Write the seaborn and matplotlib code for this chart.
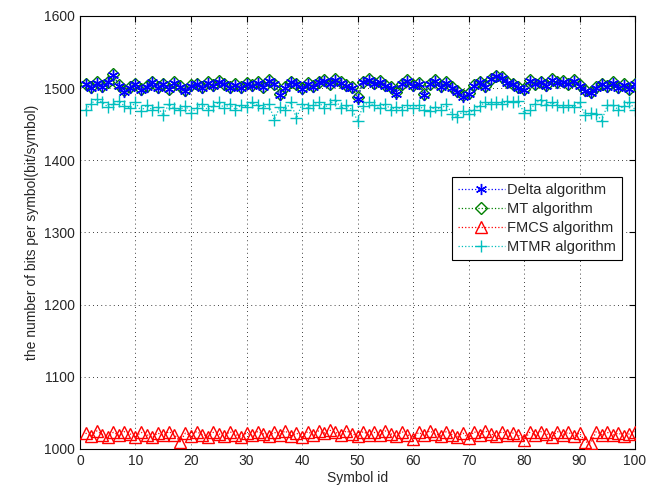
import matplotlib
matplotlib.use("Agg")
import matplotlib.pyplot as plt
import seaborn as sns
import numpy as np

symbol_id = list(range(1, 101))

delta = [1505, 1500, 1507, 1502, 1508, 1518, 1503, 1495, 1500, 1505,
         1497, 1502, 1508, 1500, 1505, 1498, 1507, 1502, 1496, 1503,
         1505, 1500, 1507, 1503, 1509, 1505, 1500, 1504, 1500, 1506,
         1503, 1507, 1501, 1510, 1505, 1490, 1500, 1508, 1505, 1499,
         1506, 1502, 1508, 1510, 1505, 1511, 1507, 1503, 1500, 1485,
         1508, 1511, 1506, 1509, 1503, 1500, 1492, 1505, 1510, 1503,
         1506, 1490, 1505, 1510, 1502, 1507, 1500, 1495, 1488, 1492,
         1503, 1508, 1502, 1512, 1516, 1514, 1507, 1505, 1500, 1497,
         1510, 1505, 1508, 1503, 1511, 1507, 1509, 1505, 1510, 1503,
         1496, 1493, 1500, 1505, 1502, 1507, 1500, 1504, 1498, 1505]

mt = [1506, 1501, 1508, 1503, 1509, 1519, 1504, 1497, 1501, 1506,
      1498, 1503, 1509, 1501, 1506, 1499, 1508, 1503, 1497, 1504,
      1506, 1501, 1508, 1504, 1510, 1506, 1501, 1505, 1501, 1507,
      1504, 1508, 1502, 1511, 1506, 1492, 1501, 1509, 1506, 1500,
      1507, 1503, 1509, 1511, 1506, 1512, 1508, 1504, 1501, 1487,
      1509, 1512, 1507, 1510, 1504, 1501, 1494, 1506, 1511, 1504,
      1507, 1492, 1506, 1511, 1503, 1508, 1501, 1496, 1490, 1493,
      1504, 1509, 1503, 1513, 1517, 1515, 1508, 1506, 1501, 1498,
      1511, 1506, 1509, 1504, 1512, 1508, 1510, 1506, 1511, 1504,
      1497, 1495, 1501, 1506, 1503, 1508, 1501, 1505, 1499, 1506]

fmcs = [1022, 1018, 1025, 1020, 1016, 1023, 1019, 1024, 1021, 1017,
        1023, 1020, 1016, 1022, 1019, 1024, 1020, 1010, 1022, 1018,
        1024, 1020, 1017, 1023, 1021, 1018, 1024, 1020, 1017, 1022,
        1019, 1024, 1021, 1018, 1023, 1020, 1025, 1018, 1022, 1016,
        1024, 1020, 1025, 1022, 1026, 1023, 1020, 1025, 1021, 1018,
        1024, 1020, 1023, 1019, 1025, 1021, 1018, 1024, 1020, 1014,
        1023, 1019, 1025, 1021, 1018, 1024, 1020, 1017, 1022, 1015,
        1024, 1020, 1025, 1021, 1018, 1024, 1020, 1022, 1019, 1012,
        1023, 1019, 1024, 1021, 1017, 1024, 1020, 1023, 1018, 1022,
        1010, 1008, 1024, 1020, 1023, 1019, 1022, 1018, 1021, 1024]

mtmr = [1470, 1478, 1485, 1480, 1474, 1478, 1482, 1475, 1472, 1480,
        1468, 1476, 1470, 1474, 1462, 1478, 1472, 1470, 1475, 1466,
        1472, 1478, 1470, 1475, 1480, 1472, 1478, 1470, 1476, 1474,
        1480, 1476, 1472, 1478, 1456, 1474, 1470, 1480, 1458, 1478,
        1472, 1476, 1480, 1473, 1478, 1484, 1472, 1476, 1470, 1455,
        1475, 1480, 1476, 1472, 1478, 1470, 1474, 1470, 1476, 1472,
        1476, 1470, 1468, 1474, 1470, 1478, 1464, 1460, 1468, 1464,
        1470, 1475, 1480, 1478, 1480, 1478, 1482, 1480, 1482, 1465,
        1470, 1478, 1484, 1476, 1480, 1476, 1474, 1476, 1474, 1480,
        1462, 1466, 1464, 1455, 1476, 1476, 1470, 1475, 1480, 1470]

labels = ["Delta algorithm", "MT algorithm", "FMCS algorithm", "MTMR algorithm"]
x_ticks = list(range(0, 101, 10))
y_ticks = list(range(1000, 1601, 100))

sns.set_style("white")
plt.rcParams['font.family'] = ['Liberation Sans', 'DejaVu Sans']
plt.rcParams['xtick.direction'] = 'in'
plt.rcParams['ytick.direction'] = 'in'

fig = plt.figure(figsize=(6.53, 4.95), dpi=100)
ax = fig.add_axes([0.1225, 0.093, 0.85, 0.875])

blue = (0, 0, 1)
green = (0, 0.5, 0)
red = (1, 0, 0)
cyan = (0, 0.75, 0.75)
styles = [
    (mt, labels[1], dict(color=green, marker='D', markersize=6.5, markerfacecolor='none', markeredgecolor=green), 3),
    (delta, labels[0], dict(color=blue, marker=(6, 2, 0), markersize=8, markerfacecolor=blue, markeredgecolor=blue), 4),
    (fmcs, labels[2], dict(color=red, marker='^', markersize=8, markerfacecolor='none', markeredgecolor=red), 3),
    (mtmr, labels[3], dict(color=cyan, marker='+', markersize=9, markeredgecolor=cyan), 2),
]
for vals, lab, kw, z in styles:
    sns.lineplot(x=symbol_id, y=vals, ax=ax, label=lab, linestyle=':', linewidth=0.9,
                 markeredgewidth=1.0, zorder=z, **kw)

ax.set_xlim(0, 100)
ax.set_ylim(1000, 1600)
ax.set_xticks(x_ticks)
ax.set_yticks(y_ticks)
ax.grid(True, linestyle=(0, (1, 4)), color='black', linewidth=0.6)
for s in ax.spines.values():
    s.set_color('black')
    s.set_linewidth(0.8)
ax.tick_params(axis='both', labelsize=10, length=4, color='black', top=True, right=True)
ax.set_xlabel("Symbol id", fontsize=10, labelpad=2)
ax.set_ylabel("the number of bits per symbol(bit/symbol)", fontsize=10)

handles, labs = ax.get_legend_handles_labels()
order = [labs.index(l) for l in labels]
leg = ax.legend([handles[i] for i in order], [labs[i] for i in order],
                loc='upper right', bbox_to_anchor=(0.99, 0.645), fontsize=10.5,
                frameon=True, fancybox=False, edgecolor='black', framealpha=1,
                handlelength=3.2, borderpad=0.4, labelspacing=0.35, handletextpad=0.2)
leg.get_frame().set_linewidth(0.8)

fig.savefig("out.png", dpi=100)
